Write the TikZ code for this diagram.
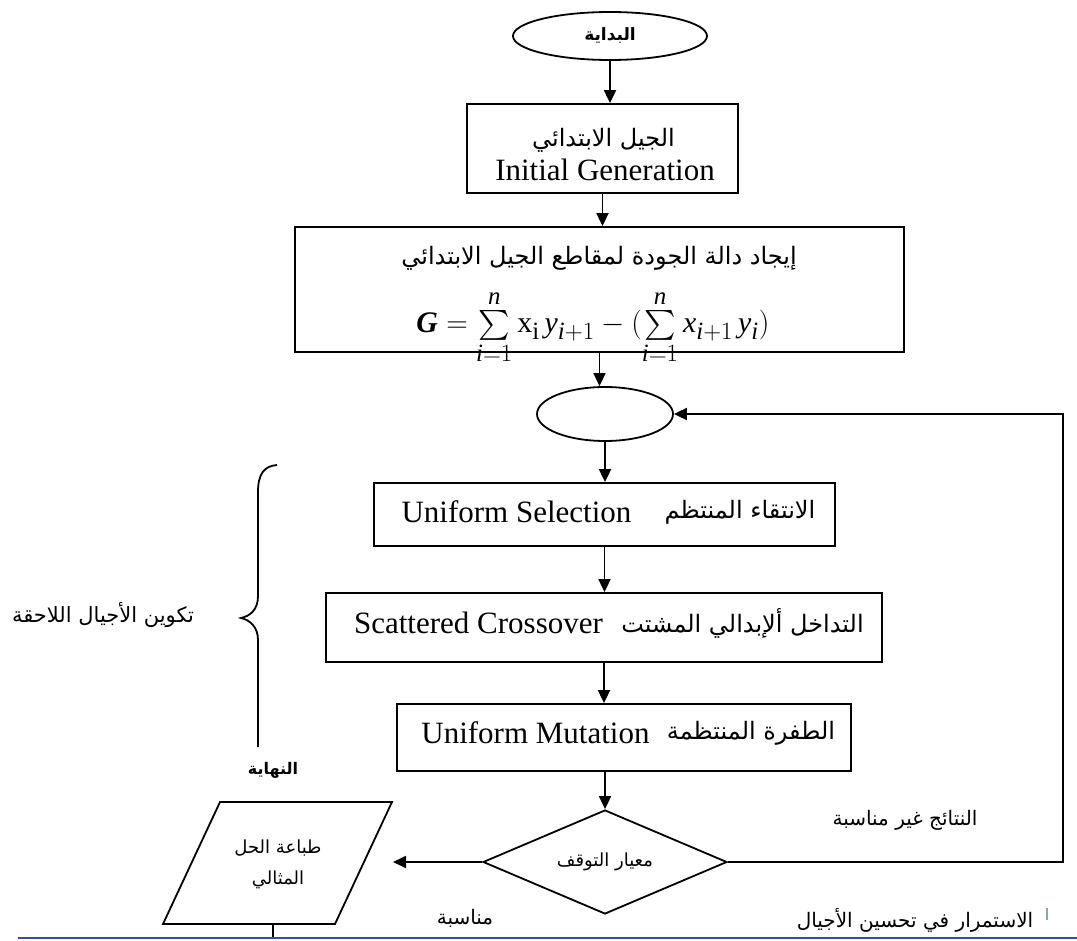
\documentclass[tikz,border=0pt]{standalone}
\usepackage{exscale}
\usepackage{fontspec}
\setmainfont{Liberation Serif}
\newfontfamily\arfont[Script=Arabic]{DejaVu Sans}
\TeXXeTstate=1
\usetikzlibrary{arrows.meta,shapes.geometric}
\definecolor{bline}{RGB}{47,84,150}
\definecolor{markc}{RGB}{140,165,190}
\newcommand{\mi}[1]{\mathit{#1}}
\begin{document}
\begin{tikzpicture}[x=1pt,y=-1pt,
 ln/.style={line width=1.8pt},
 box/.style={draw, ln, rectangle, inner sep=0pt},
 oval/.style={draw, ln, ellipse, inner sep=0pt},
 arr/.style={ln, -{Triangle[length=13pt,width=12pt]}},
 tx/.style={inner sep=0pt},
 en/.style={inner sep=0pt, anchor=base, font=\fontsize{31}{34}\selectfont},
 arL/.style={inner sep=0pt, font=\arfont\fontsize{24}{24}\selectfont},
 arM/.style={inner sep=0pt, font=\arfont\fontsize{20}{20}\selectfont},
 arS/.style={inner sep=0pt, font=\arfont\fontsize{18}{18}\selectfont},
 arB/.style={inner sep=0pt, font=\arfont\bfseries\fontsize{16}{16}\selectfont},
]
\useasboundingbox (0,0) rectangle (1077,941);
% start
\node[oval, minimum width=194pt, minimum height=48pt, font=\arfont\bfseries\fontsize{17}{17}\selectfont] (e1) at (610,36) {\beginR البداية\endR};
% box 1
\node[box, minimum width=271pt, minimum height=89pt] (b1) at (602.5,148.5) {};
\node[arL] (b1ar) at (603.5,140) {\beginR الجيل الابتدائي\endR};
\node[en] (b1en) at (605,181) {Initial Generation};
% box 2
\node[box, minimum width=609pt, minimum height=125pt] (b2) at (599.5,289.5) {};
\node[arL] (b2ar) at (599,258) {\beginR إيجاد دالة الجودة لمقاطع الجيل الابتدائي\endR};
\node[tx, anchor=base] (b2f) at (593,333) {\scalebox{1.2}{\Huge$\mbox{\bfseries\itshape G}=\sum\limits_{\mi{i}=1}^{\mi{n}}\mathrm{x}_{\mathrm{i}}\,\mi{y}_{\mi{i}+1}-(\sum\limits_{\mi{i}=1}^{\mi{n}}\mi{x}_{\mi{i}+1}\,\mi{y}_{\mi{i}})$}};
% junction ellipse
\node[oval, minimum width=136pt, minimum height=54pt] (e2) at (605,414) {};
% boxes 3-5
\node[box, minimum width=461pt, minimum height=63pt] (b3) at (604.5,514.5) {};
\node[en] (b3en) at (516.5,522) {Uniform Selection};
\node[arL] (b3ar) at (740,512) {\beginR الانتقاء المنتظم\endR};
\node[box, minimum width=556pt, minimum height=69pt] (b4) at (604,627.5) {};
\node[en] (b4en) at (478.5,633) {Scattered Crossover};
\node[arL] (b4ar) at (742.5,623) {\beginR التداخل ألإبدالي المشتت\endR};
\node[box, minimum width=454pt, minimum height=67pt] (b5) at (624,737.5) {};
\node[en] (b5en) at (535.5,743) {Uniform Mutation};
\node[arL] (b5ar) at (751,733) {\beginR الطفرة المنتظمة\endR};
% decision
\node[draw, ln, diamond, aspect=2.35, inner sep=0pt, minimum width=244pt, minimum height=104pt, font=\arfont\fontsize{18}{18}\selectfont] (dia) at (605,862) {\beginR معيار التوقف\endR};
% arrows down
\draw[arr] (e1.south) -- (e1.south |- b1.north);
\draw[arr] (b1.south) -- (b1.south |- b2.north);
\draw[arr] (b2.south) -- (b2.south |- e2.north);
\draw[arr] (e2.south) -- (e2.south |- b3.north);
\draw[arr] (b3.south) -- (b3.south |- b4.north);
\draw[arr] (b4.south) -- (b4.south |- b5.north);
\draw[arr] (dia.north |- b5.south) -- (dia.north);
% loop back
\coordinate (lx) at (1063,0);
\draw[arr] (dia.east) -- (dia.east -| lx) |- (e2.east);
% output parallelogram
\coordinate (pa) at (220,802);
\coordinate (pb) at (392,802);
\coordinate (pc) at (335,924);
\coordinate (pd) at (163,924);
\draw[ln] (pa) -- (pb) -- (pc) -- (pd) -- cycle;
\node[arS] (p1) at (278,848) {\beginR طباعة الحل\endR};
\node[arS] (p2) at (278,880) {\beginR المثالي\endR};
\coordinate (ptip) at (393,862);
\draw[arr] (dia.west) -- (ptip);
\node[arB] (endl) at (273,770) {\beginR النهاية\endR};
% bottom
\coordinate (pbot) at (273,924);
\coordinate (bl0) at (18,938);
\coordinate (bl1) at (1077,938);
\draw[ln] (pbot) -- (pbot |- bl0);
\draw[bline, line width=2.4pt] (bl0) -- (bl1);
% brace
\draw[ln] (277,465) .. controls (264,466) and (258,474) .. (258,492) -- (258,596) .. controls (258,610) and (250,616) .. (241,618) .. controls (250,620) and (258,627) .. (258,640) -- (258,747);
% labels
\node[arM, font=\arfont\fontsize{21}{21}\selectfont] (lb1) at (103,615) {\beginR تكوين الأجيال اللاحقة\endR};
\node[arM] (lb2) at (905,820) {\beginR النتائج غير مناسبة\endR};
\node[arM] (lb3) at (465,918) {\beginR مناسبة\endR};
\node[arM] (lb4) at (915,920) {\beginR الاستمرار في تحسين الأجيال\endR};
\draw[markc, line width=2pt] ([xshift=14pt]lb4.north east) -- ++(0,12);
\end{tikzpicture}
\end{document}
